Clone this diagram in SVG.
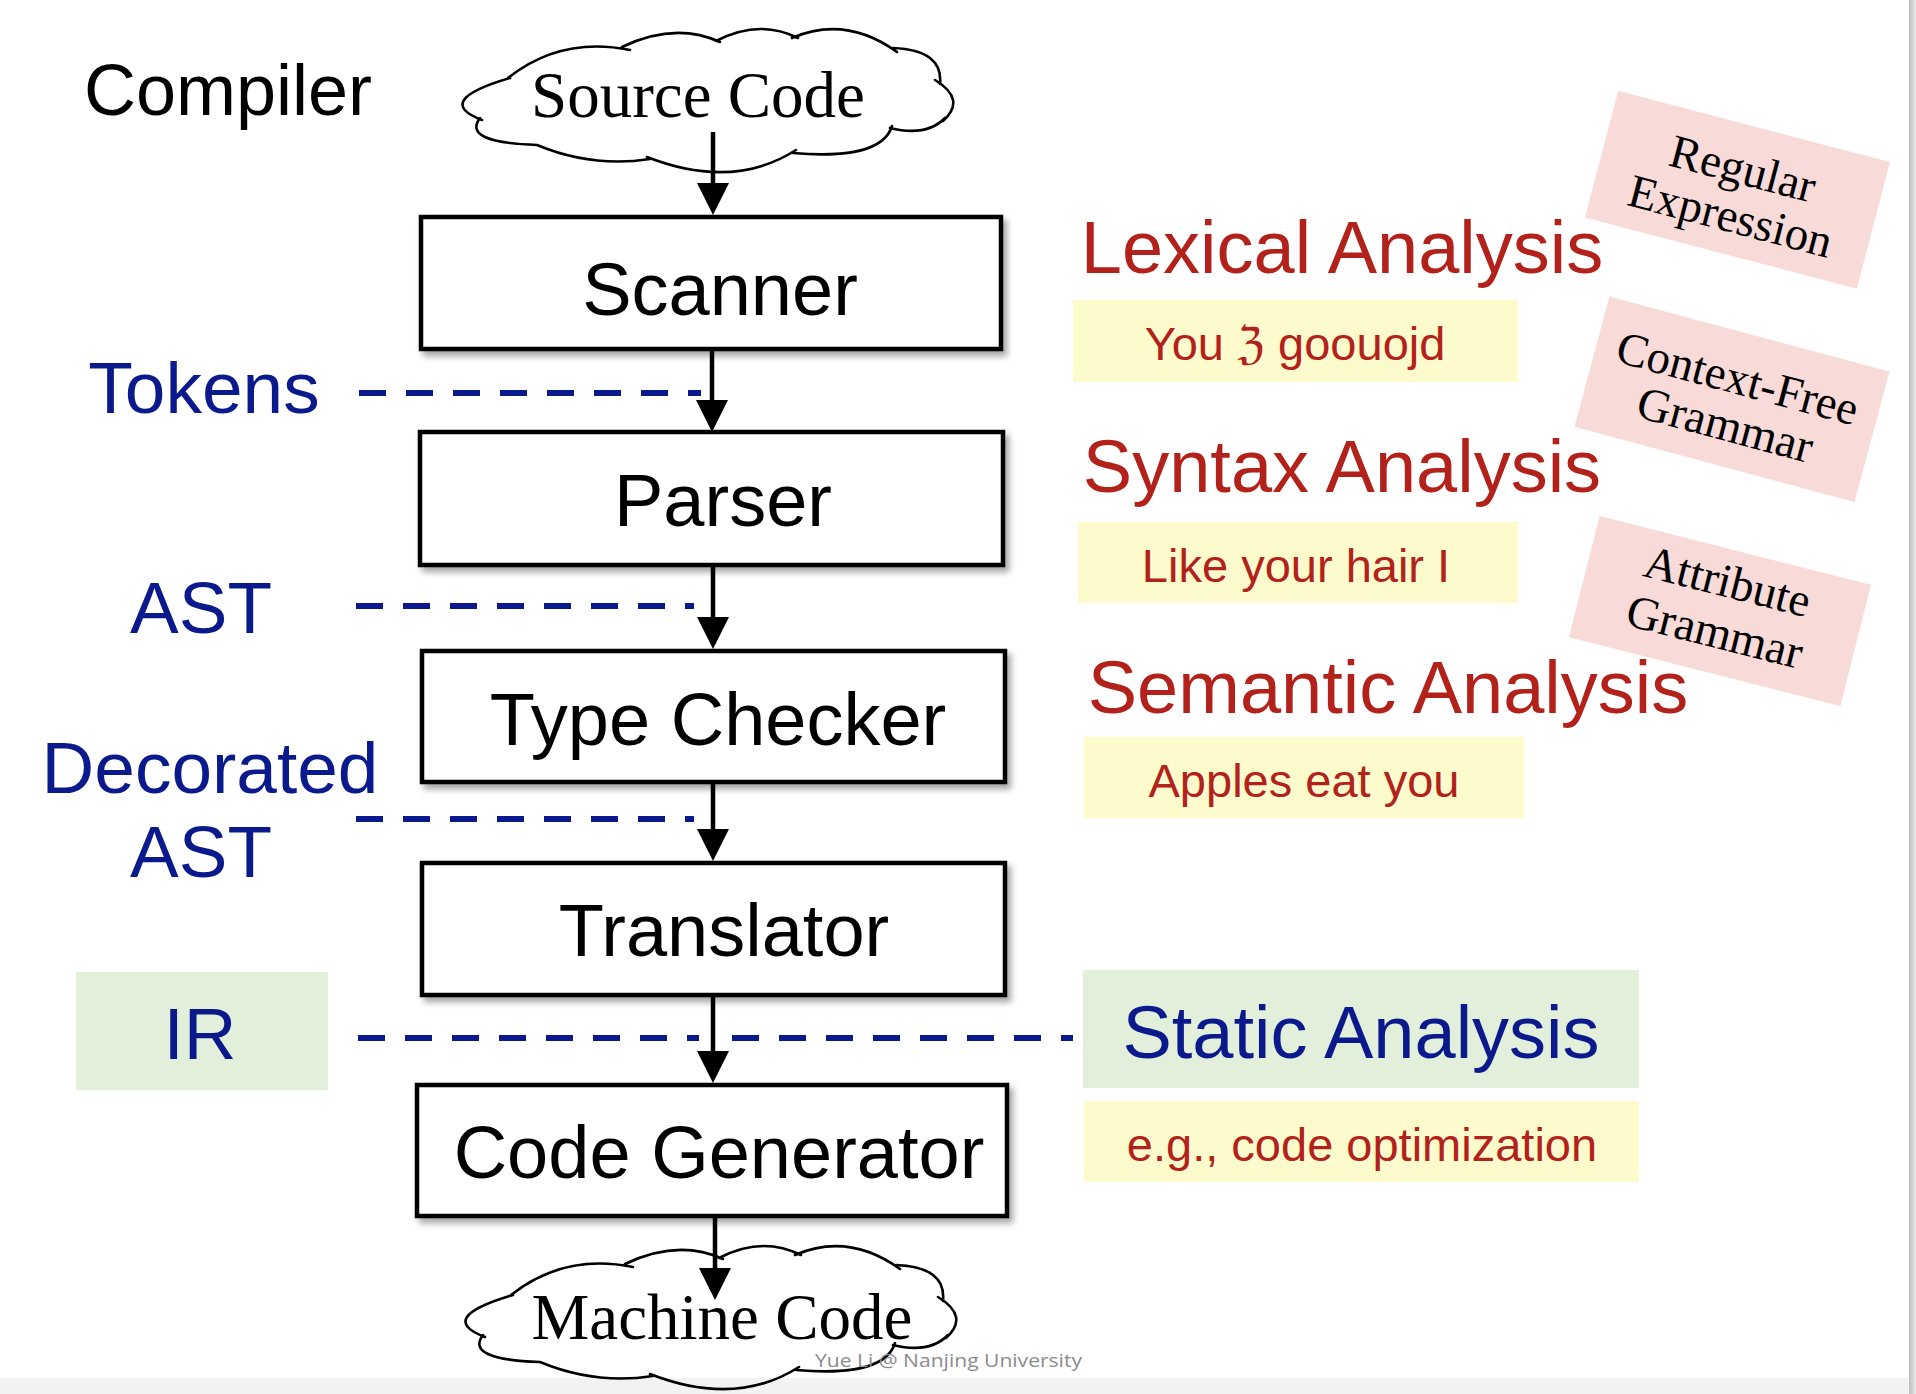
<svg xmlns="http://www.w3.org/2000/svg" width="1916" height="1394" viewBox="0 0 1916 1394">
<defs>
<style>
.sans{font-family:"Liberation Sans",Arial,Helvetica,sans-serif}
.serif{font-family:"Liberation Serif","Times New Roman",serif}
.box{fill:#fff;stroke:#000;stroke-width:4.5;filter:url(#sh)}
.lbl{font-size:74px;fill:#000;text-anchor:middle}
.blue{fill:#0a1a8c;font-size:73px;text-anchor:middle}
.red{fill:#b2221a;font-size:74px;text-anchor:middle}
.ex{fill:#b2221a;font-size:47px;text-anchor:middle}
.yel{fill:#fdfacc}
.grn{fill:#e2efda}
.pink{fill:#f8dbd8}
.ptxt{font-size:47px;text-anchor:middle;fill:#000}
.dash{stroke:#0a1a8c;stroke-width:6;stroke-dasharray:27 20;fill:none}
.arr{stroke:#000;stroke-width:4.5;fill:none;marker-end:url(#ah)}
.ctxt{font-size:65px;text-anchor:middle;fill:#000}
</style>
<filter id="sh" x="-5%" y="-5%" width="115%" height="125%">
<feDropShadow dx="4" dy="5" stdDeviation="3" flood-color="#000" flood-opacity="0.35"/>
</filter>
<marker id="ah" markerUnits="userSpaceOnUse" markerWidth="32" markerHeight="32" viewBox="0 0 32 32" refX="22" refY="16" orient="auto">
<path d="M0,0 L32,16 L0,32 z" fill="#000"/>
</marker>
<linearGradient id="rg" x1="0" x2="1" y1="0" y2="0">
<stop offset="0" stop-color="#bcbcbc"/><stop offset="1" stop-color="#ebebeb"/>
</linearGradient>
<path id="cl" fill="none" stroke="#000" stroke-width="2.6" stroke-linecap="round" d="M508,78 Q561,36 630,50 M622,47 Q675,21.5 720,42 M716,41 Q759,18.5 798,38 M792,38 Q845.5,15 897,52 M893,48 Q943.5,50 940,84 M935,80 Q967,99.5 943,121 M945,118 Q926.5,137 890,128 M892,126 Q881.5,160.5 793,153 M796,150 Q732.5,190.5 647,157 M650,159 Q592.5,168 537,145 M537,145 Q461.5,142.5 480,118 M482,120 Q432,101 510,78"/>
</defs>

<rect x="0" y="0" width="1916" height="1394" fill="#fff"/>
<rect x="0" y="1378" width="1916" height="16" fill="#f2f2f2"/>
<rect x="1909" y="0" width="7" height="1394" fill="url(#rg)"/>

<text class="sans" x="228" y="115" font-size="72" text-anchor="middle" fill="#000">Compiler</text>

<g id="connectors">
<line class="dash" x1="359" y1="393" x2="701" y2="393"/>
<line class="dash" x1="356" y1="606" x2="694" y2="606"/>
<line class="dash" x1="356" y1="819" x2="694" y2="819"/>
<line class="dash" x1="358" y1="1038" x2="699" y2="1038"/>
<line class="dash" x1="732" y1="1038" x2="1073" y2="1038"/>
<line class="arr" x1="713" y1="132" x2="713" y2="205"/>
<line class="arr" x1="712" y1="349" x2="712" y2="422"/>
<line class="arr" x1="713" y1="565" x2="713" y2="639"/>
<line class="arr" x1="713" y1="782" x2="713" y2="851"/>
<line class="arr" x1="713" y1="995" x2="713" y2="1073"/>
<line class="arr" x1="715" y1="1216" x2="715" y2="1290"/>
</g>

<g id="source-code">
<use href="#cl"/>
<text class="serif ctxt" x="698" y="117">Source Code</text>
</g>

<g id="scanner">
<rect class="box" x="421" y="217" width="580" height="132"/>
<text class="sans lbl" x="720" y="315">Scanner</text>
</g>
<g id="parser">
<rect class="box" x="420" y="432" width="583" height="133"/>
<text class="sans lbl" x="723" y="526">Parser</text>
</g>
<g id="type-checker">
<rect class="box" x="422" y="651" width="583" height="131"/>
<text class="sans lbl" x="718" y="745">Type Checker</text>
</g>
<g id="translator">
<rect class="box" x="422" y="863" width="583" height="132"/>
<text class="sans lbl" x="724" y="956">Translator</text>
</g>
<g id="code-generator">
<rect class="box" x="417" y="1085" width="590" height="131"/>
<text class="sans lbl" x="719" y="1178">Code Generator</text>
</g>

<g id="machine-code">
<use href="#cl" transform="translate(3,1217)"/>
<text class="serif ctxt" x="722" y="1339" font-size="64">Machine Code</text>
</g>

<g id="tokens"><text class="sans blue" x="204" y="413">Tokens</text></g>
<g id="ast"><text class="sans blue" x="201" y="633">AST</text></g>
<g id="decorated-ast">
<text class="sans blue" x="210" y="793">Decorated</text>
<text class="sans blue" x="201" y="877">AST</text>
</g>
<g id="ir">
<rect class="grn" x="76" y="972" width="252" height="118"/>
<text class="sans blue" x="200" y="1059">IR</text>
</g>

<g id="lexical">
<text class="sans red" x="1342" y="273">Lexical Analysis</text>
<rect class="yel" x="1073" y="300" width="445" height="82"/>
<text class="sans ex" x="1295" y="360">You ℨ goouojd</text>
</g>
<g id="syntax">
<text class="sans red" x="1342" y="492">Syntax Analysis</text>
<rect class="yel" x="1078" y="522" width="440" height="81"/>
<text class="sans ex" x="1296" y="582">Like your hair I</text>
</g>
<g id="semantic">
<text class="sans red" x="1388" y="713">Semantic Analysis</text>
<rect class="yel" x="1084" y="737" width="440" height="81"/>
<text class="sans ex" x="1304" y="797">Apples eat you</text>
</g>
<g id="static">
<rect class="grn" x="1083" y="970" width="556" height="118"/>
<text class="sans" x="1361" y="1058" font-size="74" text-anchor="middle" fill="#0a1a8c">Static Analysis</text>
<rect class="yel" x="1084" y="1101" width="555" height="81"/>
<text class="sans ex" x="1362" y="1161" font-size="46">e.g., code optimization</text>
</g>

<g id="regular-expression" transform="translate(1737.5,189.75) rotate(14.7)">
<rect class="pink" x="-140.5" y="-65.5" width="281" height="131"/>
<text class="serif ptxt" x="0" y="-6">Regular</text>
<text class="serif ptxt" x="0" y="43">Expression</text>
</g>
<g id="context-free-grammar" transform="translate(1732,399.2) rotate(15)">
<rect class="pink" x="-145" y="-67.5" width="290" height="135"/>
<text class="serif ptxt" x="0" y="-6">Context-Free</text>
<text class="serif ptxt" x="0" y="42">Grammar</text>
</g>
<g id="attribute-grammar" transform="translate(1720,611) rotate(14.2)">
<rect class="pink" x="-140" y="-62.5" width="280" height="125"/>
<text class="serif ptxt" x="0" y="-15">Attribute</text>
<text class="serif ptxt" x="0" y="37">Grammar</text>
</g>

<text class="sans" x="815" y="1367" font-size="19" fill="#8c8c8c" textLength="267" lengthAdjust="spacingAndGlyphs" style="font-family:'Open Sans','Liberation Sans',sans-serif">Yue Li @ Nanjing University</text>
</svg>
